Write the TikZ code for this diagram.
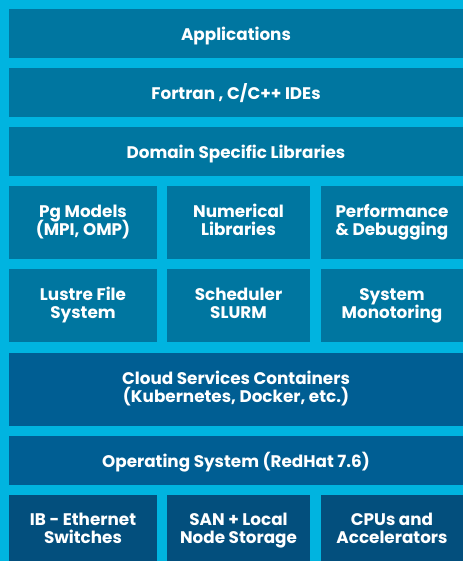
\documentclass[tikz,border=0pt]{standalone}
\usepackage{fontspec}
\setmainfont{Poppins}
\usetikzlibrary{calc}
\definecolor{bgc}{HTML}{00B4E0}
\definecolor{ca}{HTML}{0076A0}
\definecolor{cb}{HTML}{005E93}
\definecolor{cc}{HTML}{034F7D}
\tikzset{
  blk/.style={anchor=north west, inner sep=0pt, outer sep=0pt, draw=none},
  lbl/.style={anchor=base, inner sep=0pt, text=white, font=\fontsize{16.8}{19}\selectfont\bfseries},
}
\begin{document}
\begin{tikzpicture}[x=1pt,y=-1pt]
\fill[bgc] (0,0) rectangle (463,561);
\useasboundingbox (0,0) rectangle (463,561);
% full-width rows
\node[blk, fill=ca, minimum width=454pt, minimum height=49pt] (app) at (9,9) {};
\node[lbl] (appT) at ($(app.north)+(0,31.5)$) {Applications};
\node[blk, fill=ca, minimum width=454pt, minimum height=49pt] (fort) at (9,68) {};
\node[lbl] (fortT) at ($(fort.north)+(0,31.5)$) {Fortran , C/C++ IDEs};
\node[blk, fill=ca, minimum width=454pt, minimum height=49pt] (dom) at (9,127) {};
\node[lbl] (domT) at ($(dom.north)+(0,31.5)$) {Domain Specific Libraries};
% row 4
\node[blk, fill=ca, minimum width=148pt, minimum height=73pt] (pg) at (9,186) {};
\node[lbl] (pgA) at ($(pg.north)+(0,31)$) {Pg Models};
\node[lbl] (pgB) at ($(pg.north)+(0,49.5)$) {(MPI, OMP)};
\node[blk, fill=ca, minimum width=143pt, minimum height=73pt] (num) at (167,186) {};
\node[lbl] (numA) at ($(num.north)+(0,31)$) {Numerical};
\node[lbl] (numB) at ($(num.north)+(0,49.5)$) {Libraries};
\node[blk, fill=ca, minimum width=142pt, minimum height=73pt] (perf) at (321,186) {};
\node[lbl] (perfA) at ($(perf.north)+(0,31)$) {Performance};
\node[lbl] (perfB) at ($(perf.north)+(0,49.5)$) {\& Debugging};
% row 5
\node[blk, fill=ca, minimum width=148pt, minimum height=73pt] (lus) at (9,269) {};
\node[lbl] (lusA) at ($(lus.north)+(0,31)$) {Lustre File};
\node[lbl] (lusB) at ($(lus.north)+(0,49.5)$) {System};
\node[blk, fill=ca, minimum width=143pt, minimum height=73pt] (sch) at (167,269) {};
\node[lbl] (schA) at ($(sch.north)+(0,31)$) {Scheduler};
\node[lbl] (schB) at ($(sch.north)+(0,49.5)$) {SLURM};
\node[blk, fill=ca, minimum width=142pt, minimum height=73pt] (mon) at (321,269) {};
\node[lbl] (monA) at ($(mon.north)+(0,31)$) {System};
\node[lbl] (monB) at ($(mon.north)+(0,49.5)$) {Monotoring};
% cloud and OS
\node[blk, fill=cb, minimum width=454pt, minimum height=73pt] (cloud) at (9,353) {};
\node[lbl] (cloudA) at ($(cloud.north)+(0,31)$) {Cloud Services Containers};
\node[lbl] (cloudB) at ($(cloud.north)+(0,49.5)$) {(Kubernetes, Docker, etc.)};
\node[blk, fill=cb, minimum width=454pt, minimum height=49pt] (os) at (9,436) {};
\node[lbl] (osT) at ($(os.north)+(0,31.5)$) {Operating System (RedHat 7.6)};
% bottom row
\node[blk, fill=cc, minimum width=148pt, minimum height=66pt] (ib) at (9,495) {};
\node[lbl] (ibA) at ($(ib.north)+(0,30.5)$) {IB - Ethernet};
\node[lbl] (ibB) at ($(ib.north)+(0,48)$) {Switches};
\node[blk, fill=cc, minimum width=143pt, minimum height=66pt] (san) at (167,495) {};
\node[lbl] (sanA) at ($(san.north)+(0,30.5)$) {SAN + Local};
\node[lbl] (sanB) at ($(san.north)+(0,48)$) {Node Storage};
\node[blk, fill=cc, minimum width=142pt, minimum height=66pt] (cpu) at (321,495) {};
\node[lbl] (cpuA) at ($(cpu.north)+(0,30.5)$) {CPUs and};
\node[lbl] (cpuB) at ($(cpu.north)+(0,48)$) {Accelerators};
\end{tikzpicture}
\end{document}
